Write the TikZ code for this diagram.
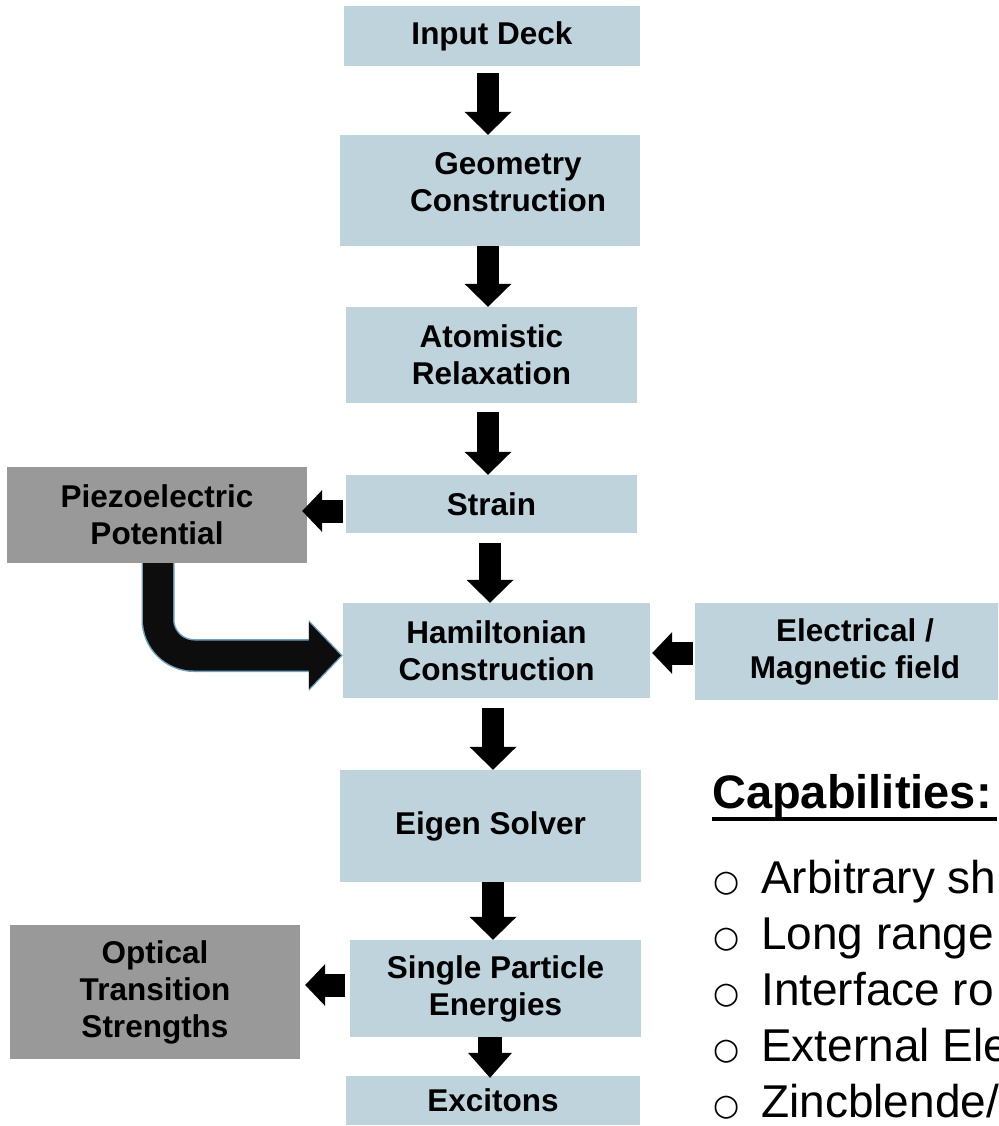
\documentclass[tikz,border=0pt]{standalone}
\usepackage{fontspec}
\setmainfont{Liberation Sans}
\newfontfamily\bulletfont{DejaVu Sans}
\usetikzlibrary{positioning, arrows.meta, calc}

\definecolor{stepblue}{RGB}{191,211,220}
\definecolor{sidegray}{RGB}{153,153,153}
\definecolor{edgeblue}{RGB}{110,160,190}

\begin{document}
\begin{tikzpicture}[
  x=1pt, y=-1pt,
  block/.style={rectangle, fill=stepblue, inner sep=0pt, align=center, font=\fontsize{31.5}{37}\selectfont\bfseries},
  extbox/.style={block, fill=sidegray},
  blocktext/.style={inner sep=0pt, align=center, font=\fontsize{31.5}{37}\selectfont\bfseries},
  flow/.style={line width=22pt, -{Triangle[width=47pt, length=23pt, line width=0pt]}},
  side/.style={line width=23pt, -{Triangle[width=42pt, length=20pt, line width=0pt]}},
  bigflow/.style={line width=30pt, rounded corners=36pt, -{Triangle[width=67pt, length=32pt, line width=0pt]}},
  bigedge/.style={line width=33pt, rounded corners=36pt, -{Triangle[width=71pt, length=34pt, line width=0pt]}},
  capline/.style={anchor=base west, inner sep=0pt, font=\fontsize{46}{55}\selectfont},
]

% Page frame (reference is cut at the right edge)
\useasboundingbox (0,0) rectangle (998,1126);
\clip (0,0) rectangle (998,1126);

% =========================
% Main flow (blue boxes)
% =========================
\node[block, minimum width=296, minimum height=60]  (input)  at (492,36)    {Input Deck};
\node[block, minimum width=300, minimum height=111] (geom)   at (490,190.5) {};
\node[blocktext] (geomtext) at ($(geom.center)+(18,-8)$) {Geometry\\Construction};
\node[block, minimum width=291, minimum height=96]  (atom)   at (491.5,355) {Atomistic\\Relaxation};
\node[block, minimum width=291, minimum height=58]  (strain) at (491.5,504) {Strain};
\node[block, minimum width=307, minimum height=95]  (ham)    at (496.5,650.5) {Hamiltonian\\Construction};
\node[block, minimum width=301, minimum height=112] (eigen)  at (490.5,826) {Eigen Solver};
\node[block, minimum width=291, minimum height=97]  (spe)    at (495.5,988.5) {Single Particle\\Energies};
\node[block, minimum width=294, minimum height=49]  (exc)    at (493,1100.5) {Excitons};

% side inputs / outputs
\node[extbox, minimum width=300, minimum height=96]  (piezo)   at (157,515)   {Piezoelectric\\Potential};
\node[block,  minimum width=320, minimum height=97]  (field)   at (855,651.5) {Electrical /\\Magnetic field};
\node[extbox, minimum width=290, minimum height=134] (optical) at (155,992)   {Optical\\Transition\\Strengths};

% =========================
% Arrows
% =========================
\draw[flow] ($(input.south)+(-4,7)$)    -- ($(geom.north)+(-2,0)$);
\draw[flow] ($(geom.south)+(-2,0)$)     -- ($(atom.north)+(-3.5,0)$);
\draw[flow] ($(atom.south)+(-3.5,9)$)   -- ($(strain.north)+(-3.5,0)$);
\draw[flow] ($(strain.south)+(-1.5,10)$) -- ($(ham.north)+(-6.5,0)$);
\draw[flow] ($(ham.south)+(-3.5,10)$)   -- ($(eigen.north)+(2.5,0)$);
\draw[flow] ($(eigen.south)+(2.5,0)$)   -- ($(spe.north)+(-2.5,0)$);
\draw[line width=24pt, -{Triangle[width=44pt, length=25pt, line width=0pt]}]
  ($(spe.south)+(-5.5,0)$) -- ($(exc.north)+(-3,2)$);

% sideways
\draw[side] ($(strain.west)+(-3,7)$)  -- ($(piezo.east)+(-5,-4)$);
\draw[side] ($(field.west)+(-2,1.5)$) -- ($(ham.east)+(2,2.5)$);
\draw[side] ($(spe.west)+(-5,-3.5)$)  -- ($(optical.east)+(5,-7)$);

% piezo potential feeds back into the Hamiltonian
\draw[bigedge, edgeblue] ($(piezo.south)+(1,0)$) |- ($(ham.west)+(0,5)$);
\draw[bigflow, black!95] ($(piezo.south)+(1,0)$) |- ($(ham.west)+(-2,5)$);

% =========================
% Capabilities list
% =========================
\node[anchor=base west, inner sep=0pt, font=\fontsize{47}{56}\selectfont\bfseries] (captitle) at (712,808) {Capabilities:};
\draw[line width=4pt] ($(captitle.base west)+(0,11)$) -- ($(captitle.base east)+(5,11)$);

\foreach \txt [count=\k] in {Arbitrary sh, Long range, Interface ro, External Ele, Zincblende/} {
  \node[capline] (cap\k) at (713, {893+56*(\k-1)})
    {\makebox[48pt][l]{\bulletfont\fontsize{30}{30}\selectfont\raisebox{2pt}{○}}\txt};
}

\end{tikzpicture}
\end{document}
